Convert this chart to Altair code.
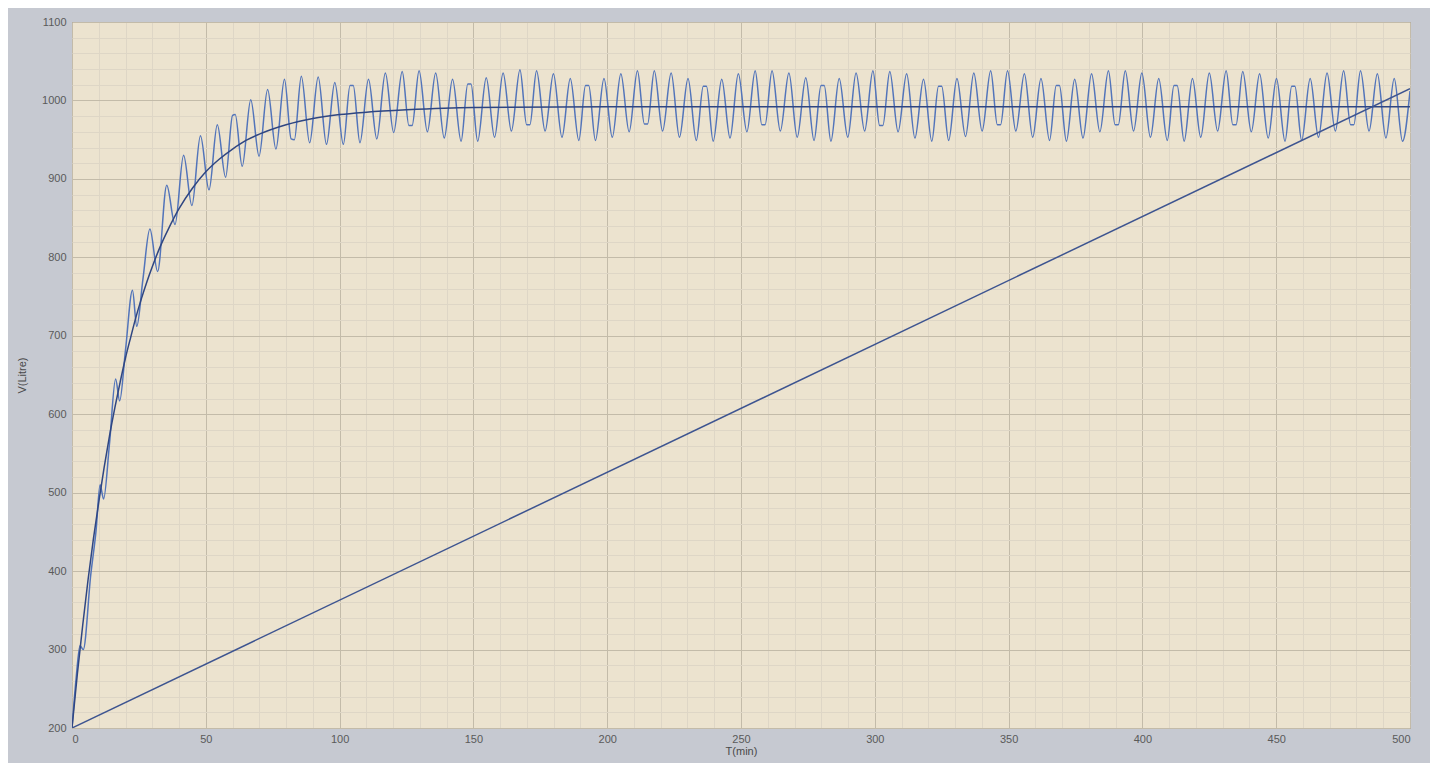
import altair as alt
import pandas as pd

# ---- values ----
# oscillating response (extremes of the zig-zag), T in min, V in litre
osc_t = [0, 1.5, 3.0, 4.2, 7.0, 9.0, 10.5, 11.8, 14.0, 16.3, 17.8, 20.0, 22.6, 24.2, 26.5,
         29.1, 32.0, 35.4, 38.5, 41.7, 44.8, 48.0, 51.2, 54.3, 57.4, 60.0, 61.0, 63.6, 66.8,
         69.9, 73.1, 76.2,
         79.4, 81.9, 83.1, 85.7, 88.8, 92.0, 95.1, 98.2, 101.4,
         103.9, 105.1, 107.6, 110.8, 113.9, 117.1, 120.2, 123.4, 125.9, 127.1,
         129.7, 132.8, 135.9, 139.1, 142.2, 145.4,
         147.9, 149.1, 151.6, 154.8, 157.9, 161.1, 164.2, 167.4, 169.9, 171.1,
         173.6, 176.8, 179.9, 183.1, 186.2, 189.4,
         191.9, 193.1, 195.6, 198.8, 201.9, 205.1, 208.2, 211.3, 213.9, 215.1,
         217.6, 220.7, 223.9, 227.0, 230.2, 233.3,
         235.9, 237.1, 239.6, 242.8, 245.9, 249.0, 252.2, 255.3, 257.8, 259.0,
         261.6, 264.7, 267.9, 271.0, 274.2, 277.3,
         279.9, 281.1, 283.6, 286.7, 289.9, 293.0, 296.2, 299.3, 301.8, 303.0,
         305.6, 308.7, 311.9, 315.0, 318.2, 321.3,
         323.8, 325.0, 327.6, 330.7, 333.9, 337.0, 340.1, 343.3, 345.8, 347.0,
         349.6, 352.7, 355.9, 359.0, 362.1, 365.3,
         367.8, 369.0, 371.6, 374.7, 377.8, 381.0, 384.1, 387.3, 389.8, 391.0,
         393.6, 396.7, 399.8, 403.0, 406.1, 409.3,
         411.8, 413.0, 415.6, 418.7, 421.8, 425.0, 428.1, 431.3, 433.8, 435.0,
         437.5, 440.7, 443.8, 447.0, 450.1, 453.3,
         455.8, 457.0, 459.5, 462.7, 465.8, 469.0, 472.1, 475.2, 477.8, 479.0,
         481.5, 484.7, 487.8, 491.0, 494.1, 497.2, 500.0]
osc_v = [200, 262, 305, 300, 395, 452, 510, 492, 562, 645, 617, 682, 758, 712, 772,
         836, 782, 892, 842, 930, 866, 955, 886, 969, 902, 981, 982, 916, 1001,
         929, 1014, 938,
         1027, 951, 950, 1031, 946, 1030, 944, 1023, 944,
         1019, 1019, 946, 1027, 951, 1035, 959, 1037, 968, 968,
         1038, 960, 1035, 952, 1027, 948,
         1021, 1021, 948, 1029, 953, 1035, 961, 1039, 969, 969,
         1038, 961, 1034, 953, 1028, 949,
         1019, 1019, 949, 1028, 953, 1034, 960, 1038, 970, 970,
         1038, 961, 1035, 953, 1028, 949,
         1018, 1018, 948, 1027, 952, 1034, 960, 1038, 969, 969,
         1038, 961, 1035, 953, 1029, 949,
         1019, 1019, 948, 1028, 953, 1035, 961, 1038, 968, 968,
         1037, 960, 1034, 952, 1027, 948,
         1018, 1018, 949, 1028, 954, 1035, 961, 1038, 969, 969,
         1038, 961, 1034, 953, 1028, 949,
         1019, 1019, 948, 1027, 952, 1034, 960, 1038, 969, 969,
         1038, 961, 1035, 953, 1028, 949,
         1019, 1019, 948, 1028, 953, 1035, 961, 1038, 969, 969,
         1037, 960, 1034, 952, 1028, 948,
         1018, 1018, 949, 1028, 953, 1035, 961, 1038, 969, 969,
         1038, 961, 1034, 952, 1028, 948, 1012]

# smooth first-order response
smooth_t = [0, 2, 4, 6, 8, 10, 12, 14, 16, 18, 20, 22, 24, 26, 28, 30, 33, 36, 40, 45,
            50, 55, 60, 65, 70, 80, 90, 100, 110, 125, 150, 200, 500]
smooth_v = [200, 269, 331, 389, 441, 488, 532, 572, 608, 641, 672, 699, 725, 748, 769,
            788, 814, 836, 862, 888, 909, 925, 938, 949, 957, 969, 977, 982, 985, 988,
            991, 992, 992]

# straight ramp
ramp_t = [0, 500]
ramp_v = [200, 1015]

x_ticks = list(range(0, 501, 10))
y_ticks = list(range(200, 1101, 20))

rows = []
for t, v in zip(osc_t, osc_v):
    rows.append({"t": t, "v": v, "s": "osc"})
for t, v in zip(smooth_t, smooth_v):
    rows.append({"t": t, "v": v, "s": "smooth"})
for t, v in zip(ramp_t, ramp_v):
    rows.append({"t": t, "v": v, "s": "ramp"})
df = pd.DataFrame(rows)

major_grid = "#c3bba9"
minor_grid = "#ded6c6"

x_axis = alt.Axis(
    values=x_ticks,
    format="d",
    labelExpr="datum.value % 50 === 0 ? datum.label : ''",
    labelOverlap=False,
    grid=True,
    gridColor={"condition": {"test": "datum.value % 50 === 0", "value": major_grid}, "value": minor_grid},
    gridWidth=1,
    ticks=False,
    domain=False,
    labelPadding=5,
    labelFont="Liberation Sans",
    labelFontSize=11,
    labelColor="#5a5a5a",
    title="T(min)",
    titleFont="Liberation Sans",
    titleFontSize=11,
    titleFontWeight="normal",
    titleColor="#4a4a4a",
    titlePadding=1,
)
y_axis = alt.Axis(
    values=y_ticks,
    format="d",
    labelExpr="datum.value % 100 === 0 ? datum.label : ''",
    labelOverlap=False,
    grid=True,
    gridColor={"condition": {"test": "datum.value % 100 === 0", "value": major_grid}, "value": minor_grid},
    gridWidth=1,
    ticks=False,
    domain=False,
    labelPadding=6,
    labelFont="Liberation Sans",
    labelFontSize=11,
    labelColor="#5a5a5a",
    title="V(Litre)",
    titleFont="Liberation Sans",
    titleFontSize=11,
    titleFontWeight="normal",
    titleColor="#4a4a4a",
    titlePadding=14,
)

chart = alt.Chart(df).mark_line(strokeWidth=1.5, clip=True, interpolate="monotone").encode(
    x=alt.X("t:Q", scale=alt.Scale(domain=[0, 500], nice=False), axis=x_axis),
    y=alt.Y("v:Q", scale=alt.Scale(domain=[200, 1100], nice=False), axis=y_axis),
    color=alt.Color("s:N",
                    scale=alt.Scale(domain=["ramp", "smooth", "osc"],
                                    range=["#3d5490", "#2f4682", "#5274ba"]),
                    legend=None),
    order=alt.Order("t:Q"),
).properties(
    width=1338,
    height=706,
    autosize=alt.AutoSizeParams(type="none"),
    padding={"left": 64, "top": 14, "right": 20, "bottom": 35},
    background="#c6c9d1",
).configure_view(
    fill="#ece3cf",
    stroke="#817d74",
    strokeWidth=1,
)

chart.save("out.html", embed_options={"renderer": "svg", "actions": False})
